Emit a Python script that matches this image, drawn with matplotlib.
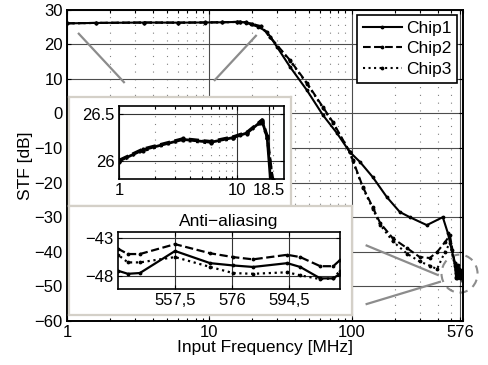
import numpy as np
import matplotlib
matplotlib.use("Agg")
import matplotlib.pyplot as plt
from matplotlib.ticker import FixedLocator, NullFormatter, LogLocator, FixedFormatter
from matplotlib.patches import Ellipse

plt.rcParams['font.family'] = ['Liberation Sans', 'DejaVu Sans']
plt.rcParams['font.size'] = 12

# ---- measured STF per chip (frequency in MHz, level in dB) ----
chip1_f = [1, 1.6, 3.5, 6, 9.3, 12.2, 15.6, 16.3, 18, 19.5, 22, 25.3, 29.8, 36.7,
           48.3, 62.6, 78.5, 96.8, 113.8, 140, 176, 217, 255, 336, 435, 472, 503, 528]
chip1_v = [26.0, 26.12, 26.23, 26.2, 26.25, 26.3, 26.41, 26.43, 26.25, 25.7, 25.0,
           23.6, 19.2, 13.5, 6.7, -0.5, -5.7, -11.2, -14.0, -18.4, -24.2, -28.5,
           -30.0, -32.3, -30.0, -34.6, -39.6, -43.3]

chip2_f = [1, 1.6, 3.5, 6, 9.3, 12.2, 15.6, 16.3, 18, 20, 23, 26.6, 36.7, 48.3,
           62.6, 73.5, 96.8, 101.5, 119.5, 140, 158, 194, 243, 299, 352, 396, 451,
           488, 528]
chip2_v = [26.01, 26.13, 26.24, 26.21, 26.26, 26.31, 26.42, 26.44, 26.27, 25.8,
           25.2, 22.1, 15.4, 8.8, 1.8, -2.5, -11.2, -13.5, -21.3, -27.1, -31.7,
           -36.1, -38.9, -41.5, -41.8, -40.1, -37.2, -35.2, -43.3]

chip3_f = [1, 1.6, 3.5, 6, 9.3, 12.2, 15.6, 16.3, 18, 20, 23, 26.6, 36.7, 48.3,
           62.6, 73.5, 96.8, 101.5, 119.5, 140, 158, 194, 243, 299, 352, 396, 451,
           488, 528]
chip3_v = [25.99, 26.11, 26.22, 26.19, 26.24, 26.29, 26.4, 26.42, 26.24, 25.8,
           25.1, 22.0, 15.2, 8.6, 1.6, -2.8, -11.3, -13.8, -21.6, -27.5, -32.2,
           -37.0, -40.5, -42.8, -44.0, -45.0, -40.0, -37.5, -44.0]

# ---- anti-aliasing band detail (around 576 MHz) ----
alias_f = [539.0, 542.2, 546.1, 557.5, 568.9, 576.3, 582.8, 593.9, 598.1, 604.6, 608.8, 611.0]
alias_chip1 = [-47.3, -47.7, -47.6, -44.7, -46.3, -46.6, -46.8, -46.3, -46.8, -48.3, -48.3, -47.7]
alias_chip2 = [-44.4, -45.1, -45.1, -43.8, -45.0, -45.5, -45.8, -45.2, -45.5, -46.7, -46.7, -45.9]
alias_chip3 = [-45.2, -46.2, -46.2, -45.5, -46.8, -47.6, -47.7, -47.5, -47.9, -48.4, -48.3, -47.3]

labels = ['Chip1', 'Chip2', 'Chip3']
styles = ['-', '--', ':']

x_ticks = [1, 10, 100, 576]
y_ticks = list(range(-60, 31, 10))

curves = [
    (np.array(chip1_f + alias_f), np.array(chip1_v + alias_chip1)),
    (np.array(chip2_f + alias_f), np.array(chip2_v + alias_chip2)),
    (np.array(chip3_f + alias_f), np.array(chip3_v + alias_chip3)),
]

W, H = 488, 365
fig = plt.figure(figsize=(W / 100, H / 100), dpi=100)


def frac(x0, y0, x1, y1):
    """pixel box (top-left origin) -> figure fraction rect"""
    return [x0 / W, 1 - y1 / H, (x1 - x0) / W, (y1 - y0) / H]


def style_axes(ax, lw=1.2):
    for s in ax.spines.values():
        s.set_linewidth(lw)
        s.set_color('black')
    ax.tick_params(which='both', direction='in', top=True, right=True,
                   length=3, width=0.8, pad=3, labelsize=12)
    ax.tick_params(which='minor', length=2)


def draw_curves(ax, ms=3.5, lw=1.5):
    for (f, v), ls, lab in zip(curves, styles, labels):
        ax.plot(f, v, linestyle=ls, color='black', lw=lw, marker='.',
                markersize=ms, label=lab)


minor_grid = dict(color='0.5', lw=0.8, ls=(0, (1, 6)))

# ---- main axes ----
ax = fig.add_axes(frac(67, 9.5, 462.7, 321), zorder=0)
draw_curves(ax)
ax.set_xscale('log')
ax.set_xlim(1, 600)
ax.set_ylim(-60, 30)
ax.xaxis.set_major_locator(FixedLocator(x_ticks))
ax.xaxis.set_major_formatter(FixedFormatter([str(t) for t in x_ticks]))
ax.xaxis.set_minor_locator(LogLocator(base=10, subs=np.arange(2, 10)))
ax.xaxis.set_minor_formatter(NullFormatter())
ax.set_yticks(y_ticks)
ax.grid(True, which='major', color='0.3', lw=0.8, ls='-')
ax.grid(True, which='minor', axis='x', **minor_grid)
style_axes(ax, lw=1.4)
ax.set_xlabel('Input Frequency [MHz]', labelpad=0, fontsize=12.5)
ax.set_ylabel('STF [dB]', labelpad=1, fontsize=12.5)

leg = ax.legend(loc='upper right', fontsize=12.5, handlelength=2.2,
                labelspacing=0.3, borderpad=0.35, handletextpad=0.25,
                borderaxespad=0.3, fancybox=False, framealpha=1,
                edgecolor='black')
leg.get_frame().set_linewidth(1.2)

# pointer lines towards the zoomed regions
gray = '0.55'
ax.plot([1.21, 2.51], [23.0, 9.0], color=gray, lw=1.6)
ax.plot([10.9, 21.2], [9.6, 22.4], color=gray, lw=1.6)
ax.plot([127, 401], [-38.2, -46.7], color=gray, lw=1.6)
ax.plot([127, 415], [-55.1, -48.7], color=gray, lw=1.6)
ax.add_patch(Ellipse((0.992, 0.152), 0.091, 0.122, transform=ax.transAxes,
                     fill=False, ls=(0, (4, 3)), lw=1.5, edgecolor=gray,
                     clip_on=False))

# ---- inset panels ----
panel_col = '#d4d0c8'
for rect in (frac(69, 97, 291, 206), frac(69, 206, 351.5, 315)):
    p = fig.add_axes(rect, zorder=3)
    p.set_xticks([])
    p.set_yticks([])
    p.set_facecolor('white')
    for s in p.spines.values():
        s.set_color(panel_col)
        s.set_linewidth(1.6)

# passband detail
a1 = fig.add_axes(frac(119, 106, 284, 179), zorder=4)
draw_curves(a1, ms=4, lw=2.0)
a1.set_xscale('log')
a1.set_xlim(1, 25)
a1.set_ylim(25.81, 26.585)
a1.xaxis.set_major_locator(FixedLocator([1, 10, 18.5]))
a1.xaxis.set_major_formatter(FixedFormatter(['1', '10', '18.5']))
a1.xaxis.set_minor_locator(LogLocator(base=10, subs=np.arange(2, 10)))
a1.xaxis.set_minor_formatter(NullFormatter())
a1.set_yticks([26, 26.5])
a1.set_yticklabels(['26', '26.5'])
a1.grid(True, which='major', color='0.2', lw=0.8)
a1.grid(True, which='minor', axis='x', **minor_grid)
style_axes(a1, lw=1.2)

# anti-aliasing detail
a2 = fig.add_axes(frac(118, 232, 340, 289), zorder=4)
draw_curves(a2, ms=3.5, lw=1.6)
a2.set_xlim(539, 611)
a2.set_ylim(-49.7, -42.2)
a2.set_xticks([557.5, 576, 594.5])
a2.set_xticklabels(['557,5', '576', '594,5'])
a2.set_yticks([-48, -43])
a2.grid(True, which='major', color='0.2', lw=0.8)
style_axes(a2, lw=1.2)
a2.set_title('Anti\u2212aliasing', fontsize=12.5, pad=4)

fig.savefig('out.png', dpi=100)
